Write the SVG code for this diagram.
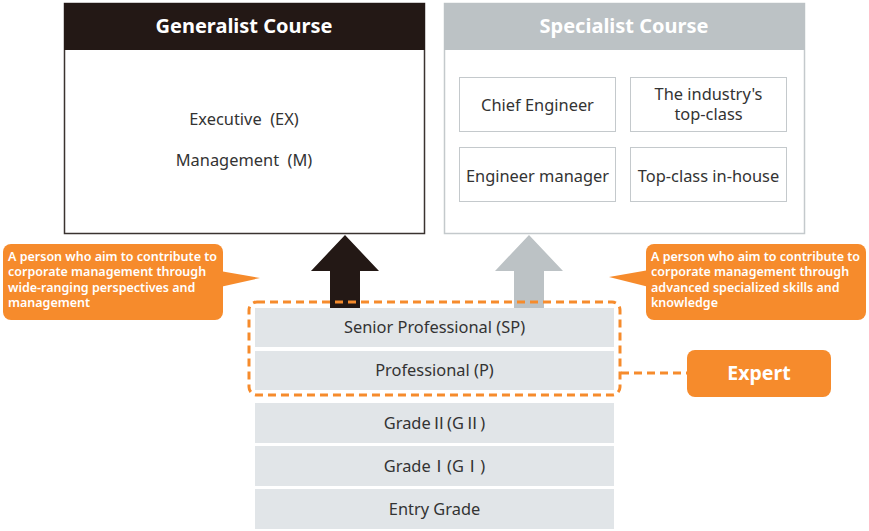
<svg xmlns="http://www.w3.org/2000/svg" width="869" height="531" viewBox="0 0 869 531">
<style>
text{font-family:"Noto Sans","Open Sans","Liberation Sans",sans-serif}
.hd{font-size:20px;font-weight:700;fill:#fff;text-anchor:middle}
.t{font-size:16.4px;fill:#333;text-anchor:middle}
.cjk{font-family:"Noto Sans CJK JP","Noto Sans",sans-serif}
.in{fill:#fff;stroke:#c4c9cc;stroke-width:1}
.gr{fill:#e1e5e8}
.co{font-size:12.5px;font-weight:600;fill:#fff}
.or{fill:#f68b2c}
.dash{fill:none;stroke:#f68b2c;stroke-width:3;stroke-dasharray:8 5}
</style>
<rect width="869" height="531" fill="#fff"/>
<g id="generalist">
<rect x="64.5" y="3.5" width="360" height="230" fill="#fff" stroke="#3a3330" stroke-width="1.5"/>
<rect x="64" y="3" width="361" height="47" fill="#231815"/>
<text class="hd" x="244" y="33">Generalist Course</text>
<text class="t" x="244" y="125">Executive&#160; (EX)</text>
<text class="t" x="244" y="166">Management&#160; (M)</text>
</g>
<g id="specialist">
<rect x="444.5" y="3.5" width="360" height="230" fill="#fff" stroke="#c4c9cc" stroke-width="1.5"/>
<rect x="444" y="3" width="361" height="47" fill="#bcc2c5"/>
<text class="hd" x="624" y="33">Specialist Course</text>
<g id="chief"><rect class="in" x="459.5" y="77.5" width="156" height="54"/><text class="t" x="537.5" y="111">Chief Engineer</text></g>
<g id="industry"><rect class="in" x="630.5" y="77.5" width="156" height="54"/><text class="t" x="708.5" y="99.5">The industry's</text><text class="t" x="708.5" y="120">top-class</text></g>
<g id="engmgr"><rect class="in" x="459.5" y="147.5" width="156" height="54"/><text class="t" x="537.5" y="182">Engineer manager</text></g>
<g id="inhouse"><rect class="in" x="630.5" y="147.5" width="156" height="54"/><text class="t" x="708.5" y="182">Top-class in-house</text></g>
</g>
<g id="connectors">
<polygon points="345,235 379,271 360,271 360,308 330,308 330,271 311,271" fill="#231815"/>
<polygon points="529,235 563,271 544,271 544,308 514,308 514,271 495,271" fill="#bcc2c5"/>
<path class="dash" d="M621,373 H687"/>
</g>
<g id="grades">
<g id="sp"><rect class="gr" x="255" y="308" width="359" height="39"/><text class="t" x="434.5" y="333">Senior Professional (SP)</text></g>
<g id="p"><rect class="gr" x="255" y="351" width="359" height="39"/><text class="t" x="434.5" y="376">Professional (P)</text></g>
<g id="g2"><rect class="gr" x="255" y="403" width="359" height="40"/><text class="t" x="434.5" y="429">Grade<tspan class="cjk">Ⅱ</tspan>(G<tspan class="cjk">Ⅱ</tspan>)</text></g>
<g id="g1"><rect class="gr" x="255" y="446" width="359" height="40"/><text class="t" x="434.5" y="472">Grade<tspan class="cjk">Ⅰ</tspan>(G<tspan class="cjk">Ⅰ</tspan>)</text></g>
<g id="entry"><rect class="gr" x="255" y="489" width="359" height="40"/><text class="t" x="434.5" y="515">Entry Grade</text></g>
</g>
<g id="expert-group">
<rect class="dash" x="249" y="302" width="371" height="93" rx="8"/>
</g>
<g id="expert">
<rect class="or" x="687" y="350" width="144" height="47" rx="8"/>
<text x="759" y="380" font-size="19.5" font-weight="700" fill="#fff" text-anchor="middle">Expert</text>
</g>
<g id="callout-left">
<rect class="or" x="3" y="244" width="220" height="76" rx="8"/>
<polygon class="or" points="220,271 260,278 220,287"/>
<text class="co" x="8" y="261">A person who aim to contribute to</text>
<text class="co" x="8" y="276">corporate management through</text>
<text class="co" x="8" y="292">wide-ranging perspectives and</text>
<text class="co" x="8" y="307">management</text>
</g>
<g id="callout-right">
<rect class="or" x="646" y="244" width="220" height="76" rx="8"/>
<polygon class="or" points="649,270 609,277 649,287"/>
<text class="co" x="651" y="261">A person who aim to contribute to</text>
<text class="co" x="651" y="276">corporate management through</text>
<text class="co" x="651" y="292">advanced specialized skills and</text>
<text class="co" x="651" y="307">knowledge</text>
</g>
</svg>
